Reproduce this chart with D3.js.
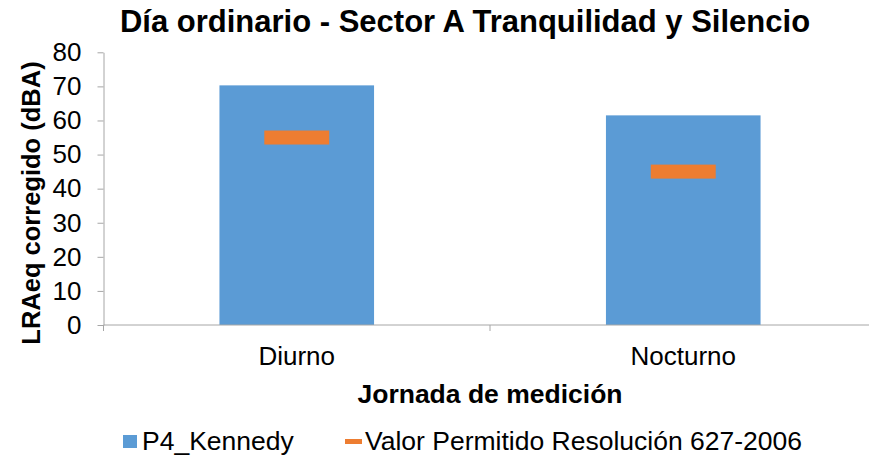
<!DOCTYPE html>
<html>
<head>
<meta charset="utf-8">
<script src="https://cdn.jsdelivr.net/npm/d3@7"></script>
<style>
  html, body { margin: 0; padding: 0; background: #fff; }
  svg { display: block; font-family: "Liberation Sans", Arial, sans-serif; }
</style>
</head>
<body>
<svg id="chart" width="869" height="458"></svg>
<script>
// Jornadas de medición y niveles medidos
const categories = ["Diurno", "Nocturno"];
const kennedyValues = [70.3, 61.5];      // P4_Kennedy, LRAeq corregido (dBA)
const permittedValues = [55, 45];        // Valor permitido Resolución 627-2006
const yTicks = [0, 10, 20, 30, 40, 50, 60, 70, 80];
const seriesNames = ["P4_Kennedy", "Valor Permitido Resolución 627-2006"];

const svg = d3.select("#chart");
const blue = "#5b9bd5", orange = "#ed7d31", axisGray = "#a6a6a6";

const x = d3.scaleBand().domain(categories).range([103.5, 876.5]).padding(0);
const y = d3.scaleLinear().domain([0, 80]).range([325, 52.3]);

const barW = x.bandwidth() * 0.4;
const markW = x.bandwidth() * 0.168;
const markH = 14;

// Bars
svg.append("g").selectAll("rect")
  .data(categories)
  .join("rect")
  .attr("x", (d) => x(d) + (x.bandwidth() - barW) / 2)
  .attr("y", (d, i) => y(kennedyValues[i]))
  .attr("width", barW)
  .attr("height", (d, i) => y(0) - y(kennedyValues[i]))
  .attr("fill", blue);

// Permitted-level markers
svg.append("g").selectAll("rect")
  .data(categories)
  .join("rect")
  .attr("x", (d) => x(d) + (x.bandwidth() - markW) / 2)
  .attr("y", (d, i) => y(permittedValues[i]) - markH / 2)
  .attr("width", markW)
  .attr("height", markH)
  .attr("fill", orange);

// Y axis
const yAxis = svg.append("g")
  .attr("transform", "translate(103.5,0)")
  .call(d3.axisLeft(y).tickValues(yTicks).tickSize(6).tickPadding(16).tickSizeOuter(0));
yAxis.select(".domain").attr("stroke", axisGray);
yAxis.selectAll(".tick line").attr("stroke", axisGray);
yAxis.selectAll(".tick text")
  .attr("font-size", 26).attr("fill", "#000")
  .attr("font-family", "Liberation Sans, Arial, sans-serif");

// X axis with boundary ticks
const xAxis = svg.append("g").attr("transform", "translate(0,325)");
xAxis.append("line")
  .attr("x1", x.range()[0]).attr("x2", x.range()[1])
  .attr("stroke", axisGray);
const bounds = categories.map((d) => x(d)).concat([x.range()[1]]);
xAxis.selectAll("line.b")
  .data(bounds)
  .join("line")
  .attr("class", "b")
  .attr("x1", (d) => d).attr("x2", (d) => d)
  .attr("y1", 0).attr("y2", 6)
  .attr("stroke", axisGray);
xAxis.selectAll("text")
  .data(categories)
  .join("text")
  .attr("x", (d) => x(d) + x.bandwidth() / 2)
  .attr("y", 40)
  .attr("text-anchor", "middle")
  .attr("font-size", 26)
  .text((d) => d);

// Titles
svg.append("text")
  .attr("x", 465).attr("y", 32)
  .attr("text-anchor", "middle")
  .attr("font-size", 31).attr("font-weight", "bold")
  .text("Día ordinario - Sector A Tranquilidad y Silencio");

svg.append("text")
  .attr("transform", "translate(40,203) rotate(-90)")
  .attr("text-anchor", "middle")
  .attr("font-size", 25.5).attr("font-weight", "bold")
  .text("LRAeq corregido (dBA)");

svg.append("text")
  .attr("x", 490).attr("y", 403)
  .attr("text-anchor", "middle")
  .attr("font-size", 26.5).attr("font-weight", "bold")
  .text("Jornada de medición");

// Legend
const legend = svg.append("g");
legend.append("rect")
  .attr("x", 123).attr("y", 435).attr("width", 14).attr("height", 13)
  .attr("fill", blue);
legend.append("text")
  .attr("x", 142).attr("y", 450).attr("font-size", 26.5)
  .text(seriesNames[0]);
legend.append("rect")
  .attr("x", 345).attr("y", 439).attr("width", 17).attr("height", 5)
  .attr("fill", orange);
legend.append("text")
  .attr("x", 365).attr("y", 450).attr("font-size", 26.5)
  .text(seriesNames[1]);
</script>
</body>
</html>
